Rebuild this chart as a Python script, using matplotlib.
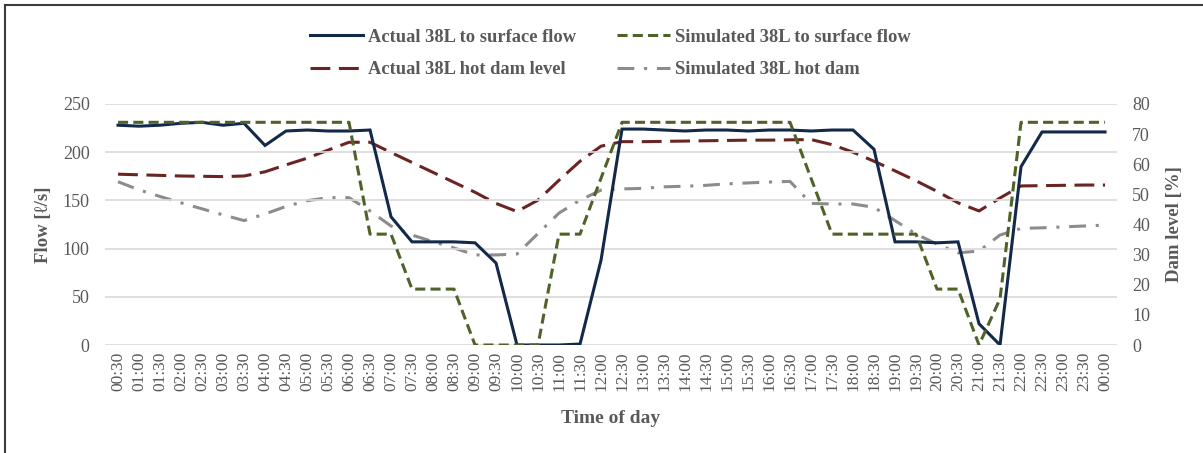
import matplotlib
matplotlib.use("Agg")
import matplotlib.pyplot as plt
from matplotlib.lines import Line2D

plt.rcParams['font.family'] = ['Liberation Serif', 'DejaVu Serif']

times = ["00:30", "01:00", "01:30", "02:00", "02:30", "03:00", "03:30", "04:00",
         "04:30", "05:00", "05:30", "06:00", "06:30", "07:00", "07:30", "08:00",
         "08:30", "09:00", "09:30", "10:00", "10:30", "11:00", "11:30", "12:00",
         "12:30", "13:00", "13:30", "14:00", "14:30", "15:00", "15:30", "16:00",
         "16:30", "17:00", "17:30", "18:00", "18:30", "19:00", "19:30", "20:00",
         "20:30", "21:00", "21:30", "22:00", "22:30", "23:00", "23:30", "00:00"]

actual_flow = [228, 227, 228, 230, 231, 228, 230, 207, 222, 223, 222, 222,
               223, 133, 107, 107, 107, 106, 85, 0, 0, 0, 1, 88,
               224, 224, 223, 222, 223, 223, 222, 223, 223, 222, 223, 223,
               203, 107, 107, 106, 107, 22, 0, 185, 221, 221, 221, 221]

sim_flow = [231, 231, 231, 231, 231, 231, 231, 231, 231, 231, 231, 231,
            115, 115, 58, 58, 58, 0, 0, 0, 0, 115, 115, 173,
            231, 231, 231, 231, 231, 231, 231, 231, 231, 173, 115, 115,
            115, 115, 115, 58, 58, 0, 48, 231, 231, 231, 231, 231]

actual_dam = [56.7, 56.5, 56.3, 56.1, 56.0, 55.9, 56.1, 57.5, 59.8, 62.0, 64.7, 67.3,
              67.3, 63.9, 60.6, 57.3, 54.0, 50.7, 47.0, 44.3, 48.1, 54.7, 61.0, 66.0,
              67.5, 67.5, 67.6, 67.7, 67.8, 67.9, 68.0, 68.0, 68.1, 68.2, 66.5, 64.0,
              61.0, 57.8, 54.5, 51.0, 47.2, 44.5, 48.8, 52.8, 52.9, 53.0, 53.1, 53.1]

sim_dam = [54.2, 51.5, 49.3, 47.2, 45.2, 43.2, 41.3, 43.5, 46.0, 47.9, 48.9, 48.9,
           44.5, 39.5, 36.5, 34.3, 32.2, 29.9, 29.9, 30.2, 37.0, 43.8, 48.1, 51.4,
           51.8, 52.0, 52.5, 52.7, 53.0, 53.5, 53.8, 54.1, 54.3, 47.0, 46.8, 46.8,
           45.7, 41.3, 36.8, 33.5, 30.6, 31.2, 36.5, 38.7, 38.9, 39.2, 39.5, 39.8]

left_ticks = [0, 50, 100, 150, 200, 250]
right_ticks = [0, 10, 20, 30, 40, 50, 60, 70, 80]

C_NAVY = "#12294a"
C_GREEN = "#4f6228"
C_RED = "#6b2424"
C_GREY = "#8c8c8c"
C_TEXT = "#595959"

fig = plt.figure(figsize=(12.03, 4.53), dpi=100)
ax = fig.add_axes([105/1203, 108/453, 1012/1203, 241/453])
ax2 = ax.twinx()

x = list(range(len(times)))

l1, = ax.plot(x, actual_flow, color=C_NAVY, lw=2.2, solid_joinstyle='miter',
              label="Actual 38L to surface flow", zorder=4)
l2, = ax.plot(x, sim_flow, color=C_GREEN, lw=2.2, linestyle=(0, (3.3, 1.7)),
              label="Simulated 38L to surface flow", zorder=5)
l3, = ax2.plot(x, actual_dam, color=C_RED, lw=2.2, linestyle=(0, (6.5, 2.8)),
               label="Actual 38L hot dam level")
l4, = ax2.plot(x, sim_dam, color=C_GREY, lw=2.2, linestyle=(0, (5.5, 3.2, 1, 3.2)),
               label="Simulated 38L hot dam")

ax.set_zorder(ax2.get_zorder() + 1)
ax.patch.set_visible(False)

ax.set_xlim(-0.62, 47.57)
ax.set_ylim(0, 250)
ax2.set_ylim(0, 80)
ax.set_yticks(left_ticks)
ax2.set_yticks(right_ticks)
ax.set_xticks(x)
ax.set_xticklabels(times, rotation=90)

ax.grid(axis='y', color="#d9d9d9", lw=1.2, zorder=0)
ax.set_axisbelow(True)
for a in (ax, ax2):
    for s in a.spines.values():
        s.set_visible(False)

ax.tick_params(axis='y', length=0, pad=11, labelsize=13, labelcolor=C_TEXT)
ax.tick_params(axis='x', length=0, pad=5, labelsize=12.5, labelcolor=C_TEXT)
ax2.tick_params(axis='y', length=0, pad=11, labelsize=13, labelcolor=C_TEXT)

ax.set_ylabel("Flow [ℓ/s]", fontsize=13.5, fontweight='bold', color=C_TEXT)
ax.yaxis.set_label_coords(-0.052, 0.5)
ax2.set_ylabel("Dam level [%]", fontsize=13.5, fontweight='bold', color=C_TEXT,
               rotation=90)
ax2.yaxis.set_label_coords(1.048, 0.5)
ax.set_xlabel("Time of day", fontsize=14, fontweight='bold', color=C_TEXT)
ax.xaxis.label.set_va('center')
ax.xaxis.set_label_coords(0.5, -0.303)

leg = fig.legend(handles=[l1, l3, l2, l4], ncol=2, loc='center',
                 bbox_to_anchor=(610/1203, 1 - 53.5/453), frameon=False,
                 prop={'weight': 'bold', 'size': 13.3}, labelcolor=C_TEXT,
                 handlelength=2.9, handletextpad=0.25, columnspacing=2.2,
                 labelspacing=0.85)

# figure border (top and left edges visible)
fig.add_artist(Line2D([5/1203, 5/1203], [1 - 5/453, 0], transform=fig.transFigure,
                      color="#3a3a3a", lw=1.5))
fig.add_artist(Line2D([5/1203, 1], [1 - 5/453, 1 - 5/453], transform=fig.transFigure,
                      color="#3a3a3a", lw=1.5))

fig.savefig("out.png", dpi=100)
